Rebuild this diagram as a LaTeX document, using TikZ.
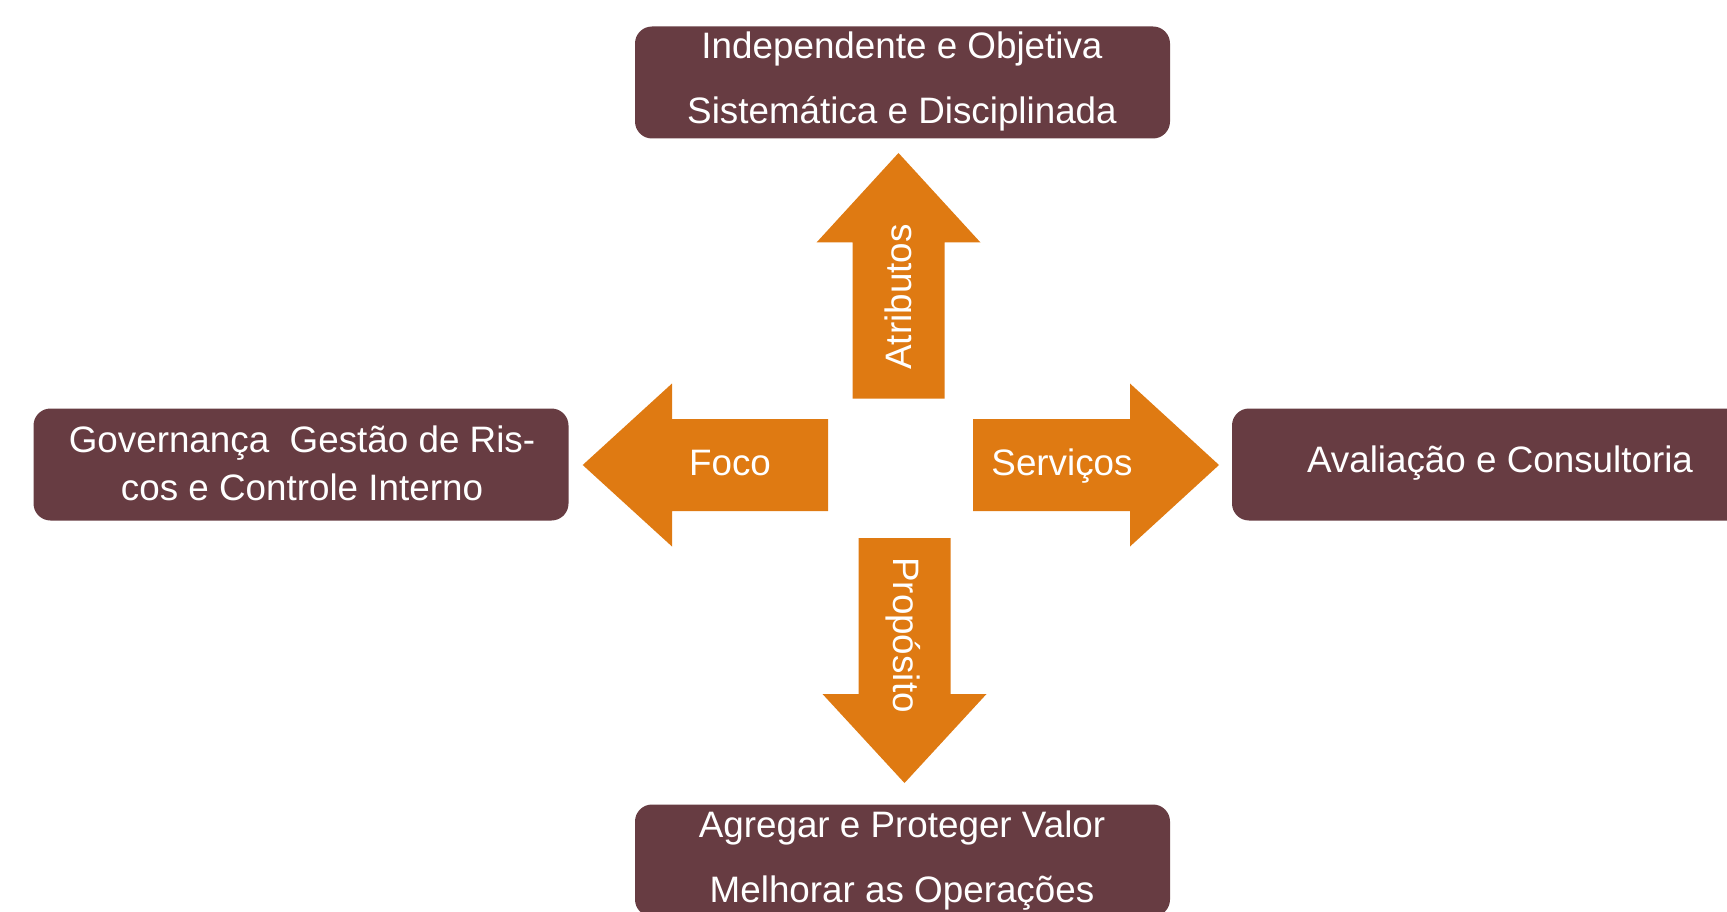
\documentclass[tikz,border=0pt]{standalone}
\usepackage{fontspec}
\setmainfont{Liberation Sans}
\definecolor{boxbrown}{HTML}{673C42}
\definecolor{arroworange}{HTML}{DF7A12}
\begin{document}
\begin{tikzpicture}[x=1pt,y=-1pt,
  box/.style={fill=boxbrown, draw=none, rounded corners=17pt, minimum width=535pt, minimum height=112pt, inner sep=0pt},
  arr/.style={fill=arroworange},
  lbl/.style={text=white, font=\fontsize{36.8}{44}\selectfont, inner sep=0pt, align=center}]
\useasboundingbox (0,0) rectangle (1727,912);
\clip (0,0) rectangle (1727,912);
% boxes
\node[box] (top) at (902.5,82.5) {};
\node[box] (left) at (301,464.5) {};
\node[box] (right) at (1499.5,464.5) {};
\node[box] (bottom) at (902.5,860.5) {};
% box texts
\node[lbl] (t1) at (902,49) {Independente e Objetiva};
\node[lbl] (t2) at (902,114) {Sistemática e Disciplinada};
\node[lbl] (l1) at (302,443.5) {Governança\ \ Gestão de Ris-};
\node[lbl] (l2) at (302,487) {cos e Controle Interno};
\node[lbl] (r1) at (1500,463) {Avaliação e Consultoria};
\node[lbl] (b1) at (902,828) {Agregar e Proteger Valor};
\node[lbl] (b2) at (902,893) {Melhorar as Operações};
% arrows
\fill[arr] (898.5,153) -- (980.5,242.5) -- (944.5,242.5) -- (944.5,398.5)
  -- (852.5,398.5) -- (852.5,242.5) -- (816.5,242.5) -- cycle;
\fill[arr] (904.5,783) -- (986.5,694) -- (950.5,694) -- (950.5,538)
  -- (858.5,538) -- (858.5,694) -- (822.5,694) -- cycle;
\fill[arr] (582.7,465) -- (672,383.5) -- (672,419) -- (828,419)
  -- (828,511) -- (672,511) -- (672,546.5) -- cycle;
\fill[arr] (1219,465) -- (1130,383.5) -- (1130,419) -- (973,419)
  -- (973,511) -- (1130,511) -- (1130,546.5) -- cycle;
% arrow labels
\node[lbl] (foco) at (730,463) {Foco};
\node[lbl] (serv) at (1062,466) {Serviços};
\node[lbl, rotate=90] (atr) at (898,297) {Atributos};
\node[lbl, rotate=-90] (prop) at (903,635) {Propósito};
\end{tikzpicture}
\end{document}
